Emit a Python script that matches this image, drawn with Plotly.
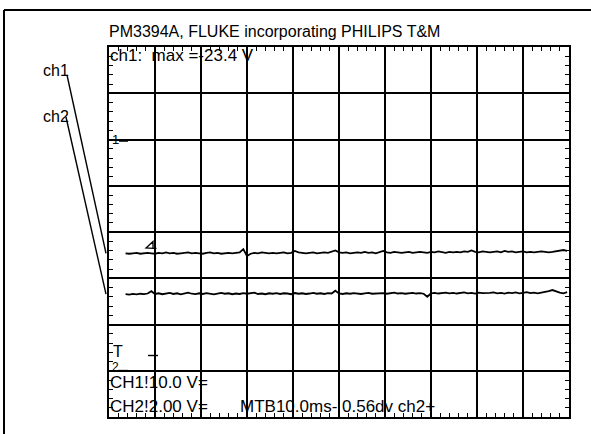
import plotly.graph_objects as go

# ---- scope settings -------------------------------------------------------
TIME_PER_DIV = 10.0      # MTB 10.0 ms/div
CH1_SCALE = 10.0         # CH1 10.0 V/div
CH2_SCALE = 2.00         # CH2 2.00 V/div
CH1_GROUND = 1.97        # ground reference of ch1 (divisions from centre)
CH2_GROUND = -3.0        # ground reference of ch2 (divisions from centre)

T_START = 3.6            # first acquired sample (ms)
T_STEP = 0.8             # sample spacing (ms)

# ---- acquired traces (volts) ----------------------------------------------
ch1_volts = [
    -24.3, -24.4, -24.3, -24.2, -24.4, -24.3, -24.2, -24.3, -24.4, -24.2,
    -24.3, -24.1, -24.3, -24.2, -24.4, -24.3, -24.2, -24.1, -24.3, -24.2,
    -24.3, -24.4, -24.2, -24.1, -24.3, -24.2, -24.4, -24.3, -24.2, -24.3,
    -24.2, -24.1, -23.4, -24.9, -24.4, -24.2, -24.3, -24.1, -24.2, -24.3,
    -24.2, -24.3, -24.2, -24.1, -24.3, -24.2, -23.8, -24.1, -24.2, -24.3,
    -24.2, -24.1, -24.3, -24.2, -24.1, -24.2, -24.0, -23.7, -24.1, -24.2,
    -24.1, -24.3, -24.2, -24.1, -24.2, -24.0, -24.2, -24.1, -24.3, -24.1,
    -23.8, -24.1, -24.2, -24.0, -24.1, -24.2, -24.1, -24.0, -24.2, -24.1,
    -24.0, -24.1, -24.2, -24.0, -24.1, -23.9, -24.1, -24.2, -24.0, -24.1,
    -24.0, -24.1, -23.9, -24.0, -23.7, -24.0, -24.1, -23.9, -24.0, -24.1,
    -24.0, -23.9, -24.1, -23.8, -24.0, -23.9, -24.1, -24.0, -23.9, -24.1,
    -24.0, -24.1, -24.0, -23.9, -24.0, -24.1, -24.0, -23.9, -23.7, -23.6,
    -23.8,
]

ch2_volts = [
    3.31, 3.29, 3.32, 3.30, 3.33, 3.31, 3.34, 3.44, 3.32, 3.35,
    3.31, 3.34, 3.37, 3.32, 3.35, 3.30, 3.34, 3.38, 3.33, 3.31,
    3.35, 3.32, 3.36, 3.33, 3.30, 3.34, 3.37, 3.33, 3.35, 3.31,
    3.34, 3.32, 3.36, 3.33, 3.35, 3.38, 3.32, 3.34, 3.31, 3.35,
    3.33, 3.36, 3.32, 3.35, 3.34, 3.31, 3.36, 3.33, 3.35, 3.32,
    3.34, 3.37, 3.33, 3.35, 3.32, 3.36, 3.34, 3.46, 3.34, 3.32,
    3.35, 3.33, 3.36, 3.34, 3.32, 3.35, 3.37, 3.33, 3.35, 3.34,
    3.36, 3.33, 3.35, 3.38, 3.34, 3.36, 3.33, 3.35, 3.37, 3.34,
    3.36, 3.33, 3.20, 3.35, 3.37, 3.34, 3.36, 3.38, 3.35, 3.37,
    3.34, 3.36, 3.39, 3.35, 3.37, 3.34, 3.38, 3.36, 3.35, 3.37,
    3.39, 3.35, 3.37, 3.34, 3.38, 3.36, 3.39, 3.35, 3.37, 3.40,
    3.36, 3.38, 3.35, 3.37, 3.40, 3.44, 3.49, 3.42, 3.38, 3.35,
    3.40,
]

time_ms = [round(T_START + T_STEP * i, 2) for i in range(len(ch1_volts))]


def to_div(values, ground, scale):
    return [ground + v / scale for v in values]


ch1_div = to_div(ch1_volts, CH1_GROUND, CH1_SCALE)
ch2_div = to_div(ch2_volts, CH2_GROUND, CH2_SCALE)

# ---- page geometry (pixels) -----------------------------------------------
W, H = 591, 434
X0, X1, Y0, Y1 = 109, 569, 47, 417     # graticule box
INK = "black"
FONT = "Liberation Sans, Arial, Helvetica, sans-serif"


def px(x):
    return (x - X0) / (X1 - X0)


def py(y):
    return (Y1 - y) / (Y1 - Y0)


def div_to_paper(d):
    return (d + 4.0) / 8.0


fig = go.Figure()
fig.add_trace(go.Scatter(x=time_ms, y=ch1_div, mode="lines",
                         line=dict(color=INK, width=1.8), hoverinfo="skip"))
fig.add_trace(go.Scatter(x=time_ms, y=ch2_div, mode="lines",
                         line=dict(color=INK, width=1.8), hoverinfo="skip"))

axis_common = dict(
    showgrid=True, gridcolor=INK, gridwidth=1.5,
    zeroline=False, showticklabels=False,
    showline=True, linecolor=INK, linewidth=1.7, mirror="allticks",
    ticks="inside", ticklen=4, tickwidth=1.2, tickcolor=INK,
    fixedrange=True,
)
fig.update_xaxes(range=[0, 10 * TIME_PER_DIV], dtick=TIME_PER_DIV,
                 minor=dict(dtick=TIME_PER_DIV / 5, ticks="inside", ticklen=4,
                            tickwidth=1.2, tickcolor=INK, showgrid=False),
                 **axis_common)
fig.update_yaxes(range=[-4, 4], dtick=1,
                 minor=dict(dtick=0.2, ticks="inside", ticklen=4,
                            tickwidth=1.2, tickcolor=INK, showgrid=False),
                 **axis_common)

shapes = []


def seg(xa, ya, xb, yb, width=1.6):
    shapes.append(dict(type="line", xref="paper", yref="paper",
                       x0=px(xa), y0=py(ya), x1=px(xb), y1=py(yb),
                       line=dict(color=INK, width=width)))


# outer frame of the printout
seg(4, 10, W, 10, 2.0)
seg(4, 10, 4, H, 2.0)

# leader lines from the channel names to their traces
ch1_end = Y1 - div_to_paper(ch1_div[0]) * (Y1 - Y0)
ch2_end = Y1 - div_to_paper(ch2_div[0]) * (Y1 - Y0)
seg(67, 75, 106, ch1_end, 1.4)
seg(66, 117, 106, ch2_end, 1.4)

# ground reference dashes
g1 = Y1 - div_to_paper(CH1_GROUND) * (Y1 - Y0)
g2 = Y1 - div_to_paper(CH2_GROUND) * (Y1 - Y0)
seg(119, g1, 128, g1, 1.8)
seg(118, g2, 128, g2, 1.8)

# trigger level mark
seg(148, 355.5, 158, 355.5, 1.4)

# trigger position marker
tri = [(146, 248), (153, 241.5), (153, 248.3)]
path = "M{},{} L{},{} L{},{} Z M{},{} L{},{}".format(
    px(tri[0][0]), py(tri[0][1]), px(tri[1][0]), py(tri[1][1]),
    px(tri[2][0]), py(tri[2][1]), px(153), py(248.3), px(156.5), py(248.3))
shapes.append(dict(type="path", xref="paper", yref="paper", path=path,
                   line=dict(color=INK, width=1.3)))

annotations = []


def label(text, x, y, size, anchor="left", box_h=None):
    ann = dict(text=text, xref="paper", yref="paper",
               x=px(x), y=py(y), xanchor=anchor, yanchor="middle",
               showarrow=False, borderpad=0,
               font=dict(family=FONT, size=size, color=INK))
    if box_h is not None:
        ann["height"] = box_h
    annotations.append(ann)


label("PM3394A, FLUKE incorporating PHILIPS T&amp;M", 108, 32, 16)
label("ch1:  max ={:.1f} V".format(max(ch1_volts)), 109, 56, 17)
label("ch1", 42, 70, 16)
label("ch2", 42, 116, 16)
label("1", 110.5, 139.5, 13)
label("T", 112, 351, 16, box_h=14)
label("2", 111, 366.5, 12, box_h=10)
label("CH1!{:.1f} V=".format(CH1_SCALE), 109, 381.5, 17, box_h=14)
label("CH2!{:.2f} V=".format(CH2_SCALE), 109, 406, 17, box_h=14)
label("MTB{:.1f}ms- 0.56dv ch2+".format(TIME_PER_DIV), 239, 406, 17, box_h=14)

fig.update_layout(
    width=W, height=H,
    margin=dict(l=X0, r=W - X1, t=Y0, b=H - Y1, pad=0),
    paper_bgcolor="white", plot_bgcolor="white",
    showlegend=False, shapes=shapes, annotations=annotations,
)

fig.write_html("out.html", config={"displayModeBar": False})
